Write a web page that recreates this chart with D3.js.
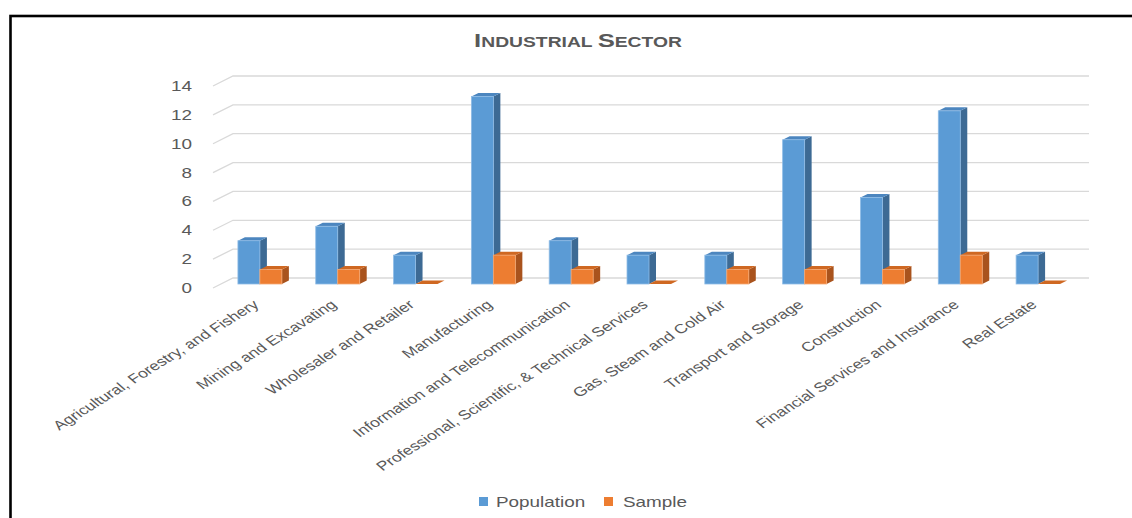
<!DOCTYPE html>
<html>
<head>
<meta charset="utf-8">
<script src="https://cdn.jsdelivr.net/npm/d3@7"></script>
<style>
  html, body { margin: 0; padding: 0; background: #ffffff; }
  svg { display: block; }
  text { font-family: "Liberation Sans", Arial, sans-serif; fill: #595959; }
</style>
</head>
<body>
<svg id="chart" width="1132" height="518"></svg>
<script>
// Industrial sector counts: population vs. sample
const categories = [
  "Agricultural, Forestry, and Fishery",
  "Mining and Excavating",
  "Wholesaler and Retailer",
  "Manufacturing",
  "Information and Telecommunication",
  "Professional, Scientific, & Technical Services",
  "Gas, Steam and Cold Air",
  "Transport and Storage",
  "Construction",
  "Financial Services and Insurance",
  "Real Estate"
];
const seriesNames = ["Population", "Sample"];
const population = [3, 4, 2, 13, 3, 2, 2, 10, 6, 12, 2];
const sample = [1, 1, 0, 2, 1, 0, 1, 1, 1, 2, 0];
const yTicks = [0, 2, 4, 6, 8, 10, 12, 14];

const svg = d3.select("#chart");
const W = 1132, H = 518;

// Text in this chart is drawn horizontally widened
const SX = 1.35;

// Floor / walls of the pseudo-3D plot
const front = { left: 213, right: 1069, bottom: 288, top: 86 };
const depth = { dx: 20, dy: -10 };          // front plane -> back wall
const barDepthAt = 0.4;                     // bars stand 40% into the floor
const barDepth = { dx: 7, dy: -3.5 };       // thickness of each bar

const y = d3.scaleLinear().domain([0, 14]).range([front.bottom, front.top]);
const x0 = d3.scaleBand().domain(categories)
  .range([front.left + depth.dx * barDepthAt, front.right + depth.dx * barDepthAt])
  .paddingInner(0).paddingOuter(0);
const x1 = d3.scaleBand().domain(seriesNames)
  .range([0, x0.bandwidth()]).paddingInner(0).paddingOuter(0.77);

const colors = {
  Population: { front: "#5B9BD5", side: "#3D6A94", top: "#4C86BF", edge: "#8FBCE6" },
  Sample:     { front: "#ED7D31", side: "#A9531D", top: "#CF6822", edge: "#F5A873" }
};

// Background and frame
svg.append("rect").attr("width", W).attr("height", H).attr("fill", "#ffffff");
svg.append("rect")
  .attr("x", 10.5).attr("y", 16).attr("width", 1400).attr("height", 800)
  .attr("fill", "none").attr("stroke", "#000000").attr("stroke-width", 2.6);

// Title in small caps
const title = svg.append("text")
  .attr("text-anchor", "middle")
  .attr("transform", `translate(578,47) scale(${SX},1)`)
  .style("font-weight", "bold");
[["I", 19], ["NDUSTRIAL ", 14.3], ["S", 19], ["ECTOR", 14.3]].forEach(([t, s]) => {
  title.append("tspan").text(t).style("font-size", s + "px");
});

// Gridlines: short slanted segment on the side wall, then across the back wall
const grid = svg.append("g");
yTicks.forEach(v => {
  const yf = y(v);
  grid.append("path")
    .attr("d", `M${front.left},${yf}L${front.left + depth.dx},${yf + depth.dy}L${front.right + depth.dx},${yf + depth.dy}`)
    .attr("fill", "none").attr("stroke", "#D9D9D9").attr("stroke-width", 1.3);
});

// Y axis labels
const yAxis = svg.append("g");
yTicks.forEach(v => {
  yAxis.append("text")
    .attr("text-anchor", "end")
    .attr("transform", `translate(192,${y(v)}) scale(${SX},1)`)
    .attr("dy", "0.36em")
    .style("font-size", "14px")
    .text(v);
});

// Bars as 3D boxes
const barLayer = svg.append("g");
const yOff = depth.dy * barDepthAt;
categories.forEach((c, i) => {
  const vals = { Population: population[i], Sample: sample[i] };
  seriesNames.forEach(s => {
    const v = vals[s];
    const col = colors[s];
    const xl = x0(c) + x1(s);
    const xr = xl + x1.bandwidth();
    const yb = y(0) + yOff;
    const yt = y(v) + yOff;
    const g = barLayer.append("g");
    // side face
    g.append("path")
      .attr("d", `M${xr},${yt}L${xr + barDepth.dx},${yt + barDepth.dy}L${xr + barDepth.dx},${yb + barDepth.dy}L${xr},${yb}Z`)
      .attr("fill", col.side);
    // top face
    g.append("path")
      .attr("d", `M${xl},${yt}L${xr},${yt}L${xr + barDepth.dx},${yt + barDepth.dy}L${xl + barDepth.dx},${yt + barDepth.dy}Z`)
      .attr("fill", col.top);
    // front face
    if (v > 0) {
      g.append("rect")
        .attr("x", xl).attr("y", yt)
        .attr("width", xr - xl).attr("height", yb - yt)
        .attr("fill", col.front)
        .attr("stroke", col.edge).attr("stroke-width", 0.8);
    }
  });
});

// Category labels, rotated
const xAxis = svg.append("g");
categories.forEach(c => {
  const cx = x0(c) + x0.bandwidth() / 2;
  xAxis.append("text")
    .attr("text-anchor", "end")
    .attr("transform", `translate(${cx},${front.bottom + 18}) scale(${SX},1) rotate(-40)`)
    .style("font-size", "13px")
    .text(c);
});

// Legend
const legend = svg.append("g");
const legendItems = [
  { name: seriesNames[0], sx: 479, tx: 496 },
  { name: seriesNames[1], sx: 604, tx: 623 }
];
legendItems.forEach(d => {
  legend.append("rect")
    .attr("x", d.sx).attr("y", 497).attr("width", 9).attr("height", 9)
    .attr("fill", colors[d.name].front);
  legend.append("text")
    .attr("transform", `translate(${d.tx},501.5) scale(${SX},1)`)
    .attr("dy", "0.36em")
    .style("font-size", "14px")
    .text(d.name);
});
</script>
</body>
</html>
